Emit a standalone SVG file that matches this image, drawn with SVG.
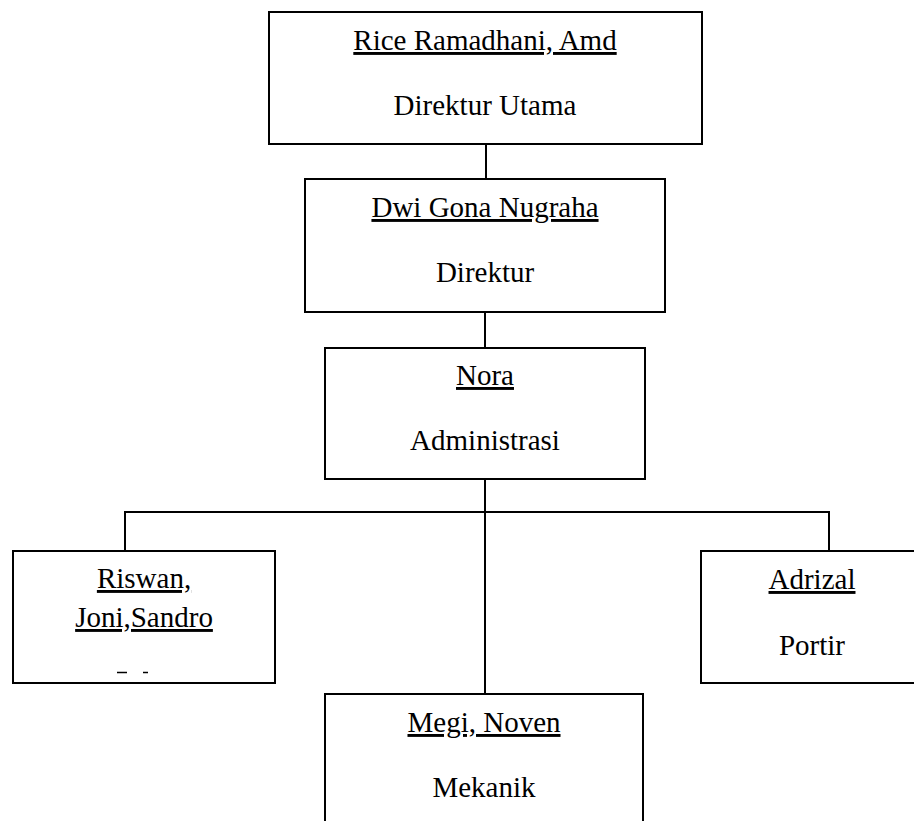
<svg xmlns="http://www.w3.org/2000/svg" width="914" height="821" viewBox="0 0 914 821">
<style>
.box{fill:#fff;stroke:#000;stroke-width:2}
.t{font-size:29px;fill:#000;text-anchor:middle}
.u{text-decoration:underline}
.c{stroke:#000;stroke-width:2;fill:none}
</style>
<rect width="914" height="821" fill="#fff"/>
<g id="connectors">
<path class="c" d="M486 144V179M485 312V348M485 479V694M125 512H829M125 511V551M829 511V551"/>
</g>
<g font-family="Liberation Serif, DejaVu Serif, serif">
<g id="n-direktur-utama">
<rect class="box" x="269" y="12" width="433" height="132"/>
<text class="t u" x="485" y="50">Rice Ramadhani, Amd</text>
<text class="t" x="485" y="115">Direktur Utama</text>
</g>
<g id="n-direktur">
<rect class="box" x="305" y="179" width="360" height="133"/>
<text class="t u" x="485" y="217">Dwi Gona Nugraha</text>
<text class="t" x="485" y="282">Direktur</text>
</g>
<g id="n-administrasi">
<rect class="box" x="325" y="348" width="320" height="131"/>
<text class="t u" x="485" y="385">Nora</text>
<text class="t" x="485" y="450">Administrasi</text>
</g>
<g id="n-sales">
<rect class="box" x="13" y="551" width="262" height="132"/>
<text class="t u" x="144" y="588">Riswan,</text>
<text class="t u" x="144" y="627">Joni,Sandro</text>
<path d="M117 672.5h10M143 672.5h5" stroke="#000" stroke-width="1.5"/>
</g>
<g id="n-portir">
<rect class="box" x="701" y="551" width="224" height="132"/>
<text class="t u" x="812" y="589">Adrizal</text>
<text class="t" x="812" y="655">Portir</text>
</g>
<g id="n-mekanik">
<rect class="box" x="325" y="694" width="318" height="140"/>
<text class="t u" x="484" y="732">Megi, Noven</text>
<text class="t" x="484" y="797">Mekanik</text>
</g>
</g>
</svg>
